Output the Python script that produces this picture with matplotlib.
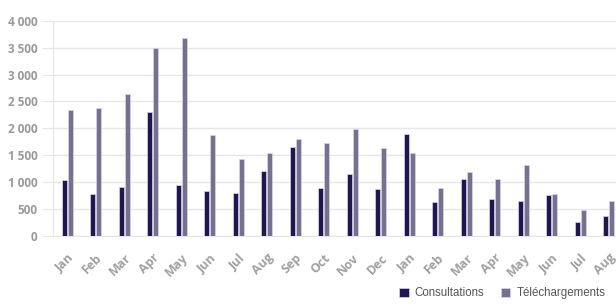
import numpy as np
from matplotlib import pyplot as plt
from matplotlib.ticker import FuncFormatter

# Monthly values
months = ['Jan', 'Feb', 'Mar', 'Apr', 'May', 'Jun', 'Jul', 'Aug', 'Sep', 'Oct',
          'Nov', 'Dec', 'Jan', 'Feb', 'Mar', 'Apr', 'May', 'Jun', 'Jul', 'Aug']
consultations = [1040, 785, 915, 2300, 945, 835, 805, 1205, 1645, 900,
                 1150, 865, 1895, 625, 1055, 680, 655, 760, 255, 370]
telechargements = [2335, 2375, 2630, 3495, 3675, 1875, 1435, 1540, 1810, 1725,
                   1980, 1630, 1545, 885, 1190, 1055, 1310, 785, 475, 645]

navy = '#1f1850'
grey = '#75718f'

fig = plt.figure(figsize=(6.16, 3.06), dpi=100)
# axes deliberately runs past the right edge, like the cropped original
ax = fig.add_axes([53 / 616, 70 / 306, 570 / 616, 215.3 / 306])

x = np.arange(len(months))
w = 0.18
ax.bar(x - 0.1, consultations, w, color=navy, edgecolor='#d8d6e6', linewidth=0.5,
       label='Consultations', zorder=3)
ax.bar(x + 0.1, telechargements, w, color=grey, edgecolor='#d8d6e6', linewidth=0.5,
       label='Téléchargements', zorder=3)

ax.set_xlim(-0.5, len(months) - 0.5)
ax.set_ylim(0, 4000)
ax.set_yticks(range(0, 4001, 500))
ax.yaxis.set_major_formatter(FuncFormatter(lambda v, p: f'{int(v):,}'.replace(',', ' ')))
ax.grid(axis='y', color='#e6e6e6', linewidth=1, zorder=0)

for s in ['top', 'right']:
    ax.spines[s].set_visible(False)
ax.spines['left'].set_color('#e6e6e6')
ax.spines['bottom'].set_color('#e6e6e6')

ax.tick_params(axis='y', length=8, color='#e6e6e6', pad=3, labelsize=8.5,
               labelcolor='#9a9a9a')
ax.tick_params(axis='x', length=0, pad=11, labelsize=9, labelcolor='#a0a0a0')
ax.set_xticks(x)
ax.set_xticklabels(months, rotation=45, ha='right', rotation_mode='anchor')
for lbl in ax.get_xticklabels() + ax.get_yticklabels():
    lbl.set_fontfamily('Open Sans')
    lbl.set_fontweight('bold')

fig.legend(loc='lower right', bbox_to_anchor=(1.0, -0.012), ncol=2, frameon=False,
           handlelength=0.85, handleheight=0.85, handletextpad=0.55, columnspacing=1.4,
           prop={'family': ['Liberation Sans Narrow', 'Liberation Sans'], 'size': 8.3},
           labelcolor='#555555')

fig.savefig('out.png', dpi=100)
